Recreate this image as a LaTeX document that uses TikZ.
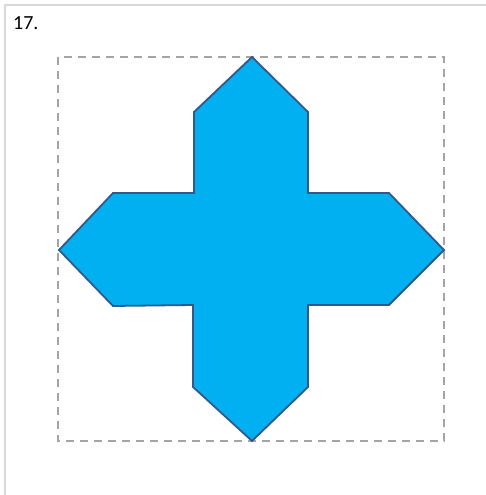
\documentclass[tikz,border=0pt]{standalone}
\usepackage{fontspec}
\setmainfont{Carlito}
\definecolor{colorCruz}{RGB}{0,176,240}
\definecolor{colorBorde}{RGB}{52,88,140}
\definecolor{colorGuia}{RGB}{165,165,165}
\definecolor{colorMarco}{RGB}{217,217,217}

\begin{document}
\begin{tikzpicture}[
	x=1pt, y=-1pt,
	marco/.style={draw=colorMarco, line width=2pt},
	guia/.style={draw=colorGuia, dashed, dash pattern=on 8pt off 6pt, line width=1.7pt},
	cruz/.style={fill=colorCruz, draw=colorBorde, line width=1.8pt, line join=miter},
	]
\useasboundingbox (0,0) rectangle (486,495);

% Marco exterior y numero
\draw[marco] (5,500) -- (5,5) -- (490,5);
\node[anchor=base west, inner sep=0pt, font=\fontsize{20}{24}\selectfont] (num) at (13,30) {17.};

% Cuadro guia
\draw[guia] (58,57) rectangle (444,441);

% Cruz con puntas
\draw[cruz] (252,57) -- (308,112) -- (308,193) -- (389,193) -- (444,250)
	-- (389,305) -- (308,305) -- (308,387) -- (252,441) -- (193,387)
	-- (193,305) -- (113,306) -- (59,250) -- (113,193) -- (194,193)
	-- (194,112) -- cycle;

\end{tikzpicture}
\end{document}
